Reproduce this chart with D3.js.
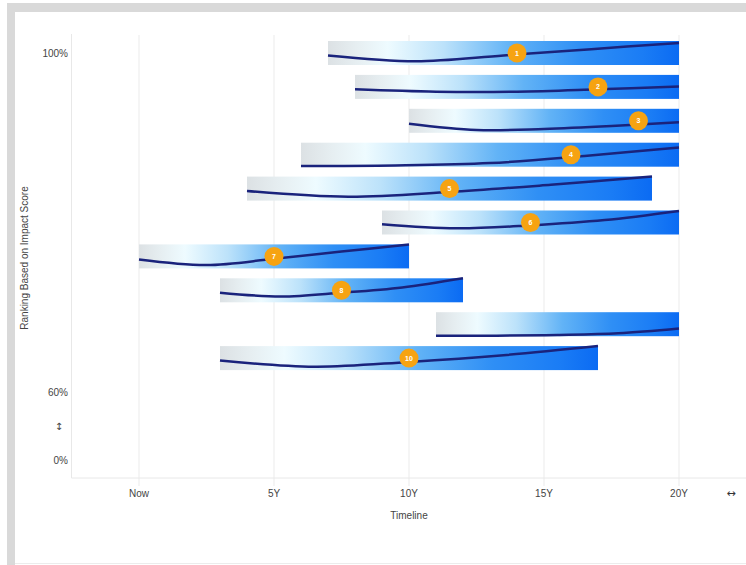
<!DOCTYPE html>
<html><head><meta charset="utf-8">
<script src="https://cdn.jsdelivr.net/npm/d3@7"></script>
<style>
html,body{margin:0;padding:0;background:#fff;}
svg{display:block;font-family:"Liberation Sans",Arial,sans-serif;}
</style></head>
<body><svg id="c" width="746" height="565"></svg>
<script>
// ---- data ----
const ranks      = [1,2,3,4,5,6,7,8,9,10];
const badgeLabels= ["1","2","3","4","5","6","7","8","","10"];
const scores     = [100,96,92,88,84,80,76,72,68,64];
const startYears = [7,8,10,6,4,9,0,3,11,3];
const endYears   = [20,20,20,20,19,20,10,12,20,17];
const badgeYears = [14,17,18.5,16,11.5,14.5,5,7.5,null,10];
// curve shape inside each bar: fraction from top of bar at t = 0, .25, .5, .75, 1
const curveT     = [0,0.25,0.5,0.75,1];
const curves = [
  [0.60,0.84,0.60,0.34,0.08],
  [0.60,0.70,0.70,0.60,0.48],
  [0.62,0.88,0.84,0.72,0.56],
  [0.97,0.95,0.85,0.55,0.20],
  [0.60,0.84,0.64,0.34,0.00],
  [0.57,0.74,0.62,0.40,0.02],
  [0.63,0.86,0.60,0.30,0.00],
  [0.60,0.76,0.60,0.38,0.00],
  [0.98,0.98,0.95,0.88,0.68],
  [0.60,0.86,0.66,0.38,0.00]
];
const xTickValues = [0,5,10,15,20];
const xTickLabels = ["Now","5Y","10Y","15Y","20Y"];
const yTickValues = [100,60,30,0];
const yTickLabels = ["100%","60%","↕","0%"];

// ---- scales ----
const svg = d3.select("#c");
const x = d3.scaleLinear().domain([0,20]).range([139,679]);
const y = d3.scaleLinear().domain([0,60,100]).range([460,392,53]);
const barH = 24;
const plotTop = 34, plotBottom = 478, plotLeft = x(-2.5);

// page frame
svg.append("rect").attr("x",7).attr("y",3).attr("width",739).attr("height",9).attr("fill","#d9d9d9");
svg.append("rect").attr("x",7).attr("y",3).attr("width",8).attr("height",562).attr("fill","#d9d9d9");
svg.append("line").attr("x1",15).attr("x2",746).attr("y1",563.5).attr("y2",563.5).attr("stroke","#ececec");

// gradient
const defs = svg.append("defs");
const g = defs.append("linearGradient").attr("id","barGrad").attr("x1","0").attr("x2","1").attr("y1","0").attr("y2","0");
[[0,"#dce1e4"],[0.08,"#e6eef1"],[0.17,"#eefbff"],[0.33,"#bce2fa"],[0.52,"#62b3f6"],[0.72,"#2f8ff5"],[0.9,"#1a7cf5"],[1,"#0b6bf3"]]
  .forEach(s=>g.append("stop").attr("offset",s[0]).attr("stop-color",s[1]));

// grid & frame
svg.append("g").selectAll("line").data(xTickValues).join("line")
  .attr("x1",d=>x(d)).attr("x2",d=>x(d)).attr("y1",plotTop+1).attr("y2",plotBottom+8)
  .attr("stroke","#ebebeb").attr("stroke-width",1);
svg.append("line").attr("x1",plotLeft).attr("x2",plotLeft).attr("y1",plotTop).attr("y2",plotBottom).attr("stroke","#e8e8e8");
svg.append("line").attr("x1",plotLeft).attr("x2",746).attr("y1",plotBottom).attr("y2",plotBottom).attr("stroke","#e8e8e8");

// x labels
svg.append("g").selectAll("text").data(xTickValues).join("text")
  .attr("x",d=>x(d)).attr("y",497).attr("text-anchor","middle")
  .attr("font-size",10).attr("fill","#444").text((d,i)=>xTickLabels[i]);
svg.append("text").attr("x",731).attr("y",497).attr("text-anchor","middle")
  .attr("font-family","'DejaVu Sans'").attr("font-size",11).attr("fill","#333").text("↔");
svg.append("text").attr("x",x(10)).attr("y",519).attr("text-anchor","middle").attr("font-size",10).attr("fill","#444").text("Timeline");

// y labels
svg.append("g").selectAll("text").data(yTickValues).join("text")
  .attr("x",(d,i)=>yTickLabels[i]==="↕"?59:68).attr("y",d=>y(d)+3.5)
  .attr("text-anchor",(d,i)=>yTickLabels[i]==="↕"?"middle":"end")
  .attr("font-family",(d,i)=>yTickLabels[i]==="↕"?"'DejaVu Sans'":null)
  .attr("font-size",10).attr("fill","#444").text((d,i)=>yTickLabels[i]);
svg.append("text").attr("transform","translate(28,258) rotate(-90)").attr("text-anchor","middle")
  .attr("font-size",10).attr("fill","#444").text("Ranking Based on Impact Score");

// bars
const bars = svg.append("g").selectAll("g").data(ranks).join("g");
bars.append("rect")
  .attr("x",(d,i)=>x(startYears[i])).attr("y",(d,i)=>y(scores[i])-barH/2)
  .attr("width",(d,i)=>x(endYears[i])-x(startYears[i])).attr("height",barH)
  .attr("fill","url(#barGrad)");
const line = d3.line().curve(d3.curveCatmullRom.alpha(0.5));
bars.append("path")
  .attr("d",(d,i)=>{
    const x0=x(startYears[i]), x1=x(endYears[i]), top=y(scores[i])-barH/2;
    return line(curves[i].map((v,k)=>[x0+(x1-x0)*curveT[k], top+v*barH]));
  })
  .attr("fill","none").attr("stroke","#1a237c").attr("stroke-width",2.5);
const badges = bars.filter((d,i)=>badgeYears[i]!==null);
badges.append("circle")
  .attr("cx",(d)=>x(badgeYears[d-1])).attr("cy",d=>y(scores[d-1]))
  .attr("r",9.5).attr("fill","#f6a312");
badges.append("text")
  .attr("x",d=>x(badgeYears[d-1])).attr("y",d=>y(scores[d-1])+2.5)
  .attr("text-anchor","middle").attr("font-size",7).attr("font-weight","bold").attr("fill","#fff")
  .text(d=>badgeLabels[d-1]);
</script></body></html>
